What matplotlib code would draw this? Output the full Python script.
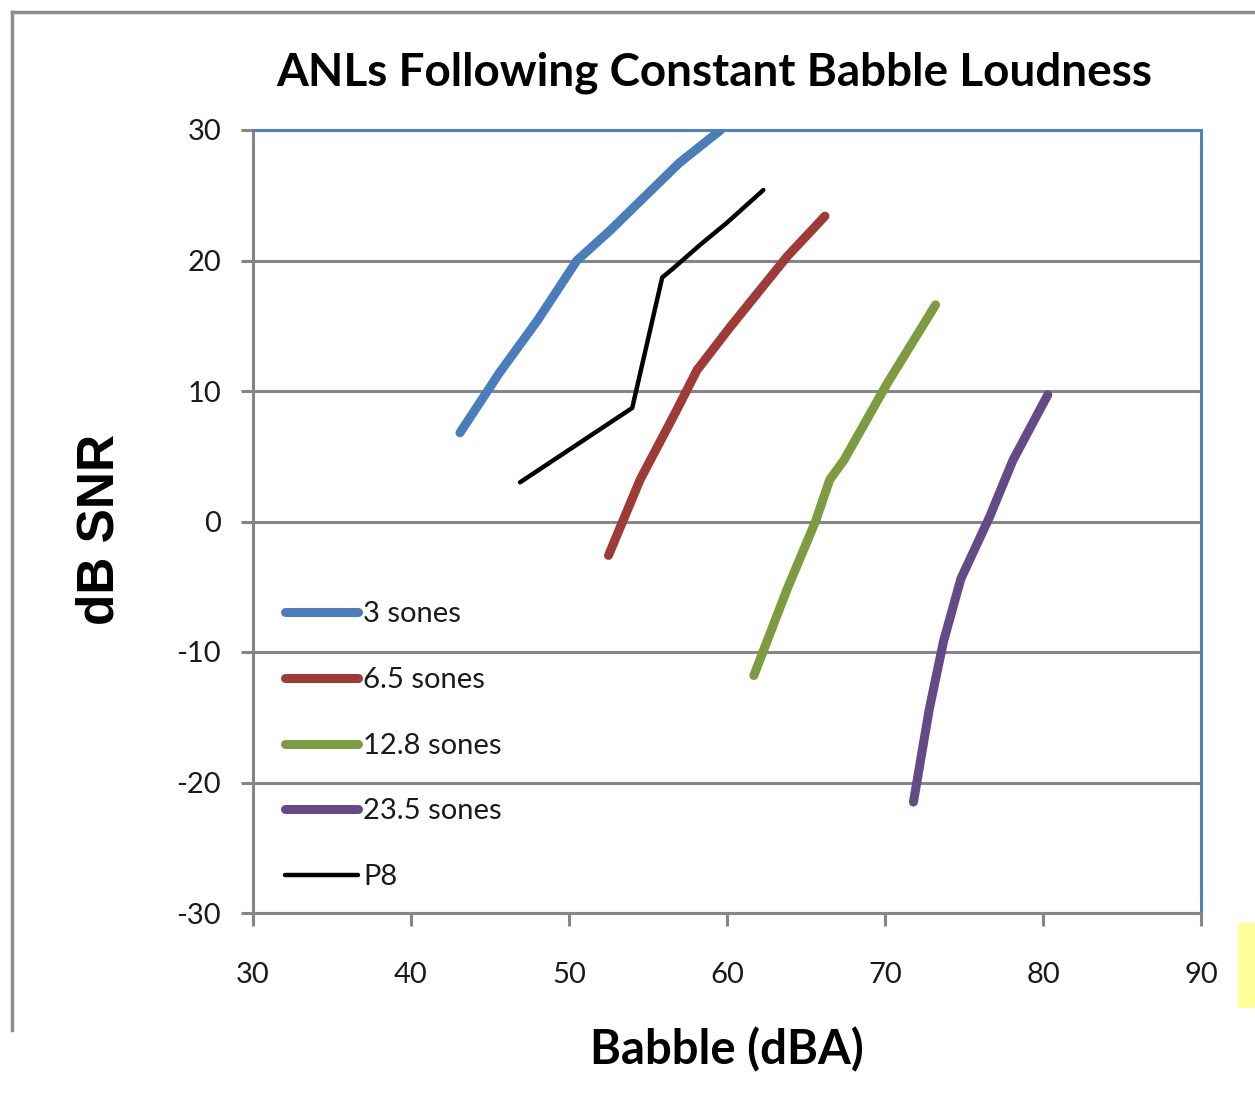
import matplotlib
matplotlib.use("Agg")
import matplotlib.pyplot as plt
from matplotlib.lines import Line2D
from matplotlib.patches import Rectangle

# Babble level (dBA) vs. acceptable noise level (dB SNR) for each loudness contour
babble_3 = [43.1, 45.6, 48.0, 50.5, 52.6, 57.0, 59.6]
snr_3 = [6.8, 11.4, 15.4, 20.0, 22.3, 27.5, 30.0]

babble_6_5 = [52.5, 54.5, 56.8, 58.1, 60.2, 63.8, 66.2]
snr_6_5 = [-2.6, 3.2, 8.5, 11.6, 14.9, 20.3, 23.4]

babble_12_8 = [61.7, 63.8, 65.6, 66.5, 67.4, 70.1, 73.2]
snr_12_8 = [-11.8, -5.2, 0.0, 3.2, 4.7, 10.5, 16.6]

babble_23_5 = [71.8, 72.8, 73.7, 74.8, 76.6, 78.1, 80.3]
snr_23_5 = [-21.5, -14.4, -9.2, -4.4, 0.3, 4.7, 9.7]

babble_p8 = [46.9, 54.0, 55.9, 56.6, 58.3, 60.0, 62.3]
snr_p8 = [3.0, 8.7, 18.7, 19.4, 21.2, 22.9, 25.4]

series_labels = ["3 sones", "6.5 sones", "12.8 sones", "23.5 sones", "P8"]
x_ticks = [30, 40, 50, 60, 70, 80, 90]
y_ticks = [-30, -20, -10, 0, 10, 20, 30]

W, H = 1255, 1105
fig = plt.figure(figsize=(W / 100, H / 100), dpi=100)
fig.patch.set_facecolor("white")

# plot area in pixel terms
L, R, T, B = 253, 1201, 130, 913
ax = fig.add_axes([L / W, 1 - B / H, (R - L) / W, (B - T) / H])

grid_c = "#868686"
colors = ["#4A7EBB", "#9E3B37", "#7D9B40", "#654B85", "#000000"]
widths = [6.5, 6.5, 6.5, 6.5, 3.2]
xs = [babble_3, babble_6_5, babble_12_8, babble_23_5, babble_p8]
ys = [snr_3, snr_6_5, snr_12_8, snr_23_5, snr_p8]

for x, y, c, lw, lab in zip(xs, ys, colors, widths, series_labels):
    ax.plot(x, y, color=c, lw=lw, label=lab, solid_capstyle="round",
            solid_joinstyle="round", zorder=3)

ax.set_xlim(30, 90)
ax.set_ylim(-30, 30)
ax.set_xticks(x_ticks)
ax.set_yticks(y_ticks)
ax.set_xticklabels([str(v) for v in x_ticks])
ax.set_yticklabels([str(v) for v in y_ticks])

ax.yaxis.grid(True, color=grid_c, lw=2.2, zorder=1)
ax.set_axisbelow(True)

for side in ("top", "right"):
    ax.spines[side].set_color("#4F81BD")
    ax.spines[side].set_linewidth(2.2)
for side in ("left", "bottom"):
    ax.spines[side].set_color(grid_c)
    ax.spines[side].set_linewidth(2.2)

ax.tick_params(axis="both", direction="out", color=grid_c, width=2.2,
               length=9, labelsize=21, labelcolor="#1a1a1a")
ax.tick_params(axis="x", pad=26)
ax.tick_params(axis="y", pad=14)
for lbl in ax.get_xticklabels() + ax.get_yticklabels():
    lbl.set_fontfamily("Lato")

leg = ax.legend(loc="center left", bbox_to_anchor=(0.034, 0.2135),
                frameon=False, prop=dict(family="Lato", size=21),
                handlelength=2.5, handletextpad=0.17, labelspacing=1.36,
                borderpad=0, borderaxespad=0)
for t in leg.get_texts():
    t.set_color("#1a1a1a")

fig.text(714 / W, 1 - 73 / H, "ANLs Following Constant Babble Loudness",
         family="Lato", weight="bold", size=33, ha="center", va="center")
fig.text(727 / W, 1 - 1050 / H, "Babble (dBA)", family="Lato",
         weight="bold", size=34, ha="center", va="center")
fig.text(100 / W, 1 - 529 / H, "dB SNR", family="Liberation Sans",
         weight="bold", size=37, rotation=90, ha="center", va="center")

# outer chart frame (top and left edges)
frame_c = "#8C8C8C"
fig.add_artist(Line2D([12 / W, 1.0], [1 - 12 / H, 1 - 12 / H],
                      color=frame_c, lw=2.5, transform=fig.transFigure))
fig.add_artist(Line2D([12 / W, 12 / W], [1 - 12 / H, 1 - 1030 / H],
                      color=frame_c, lw=2.5, transform=fig.transFigure))
fig.add_artist(Rectangle((1238 / W, 1 - 1008 / H), 17 / W, 85 / H,
                         color="#FFFF99", transform=fig.transFigure, lw=0))

fig.savefig("out.png", dpi=100)
